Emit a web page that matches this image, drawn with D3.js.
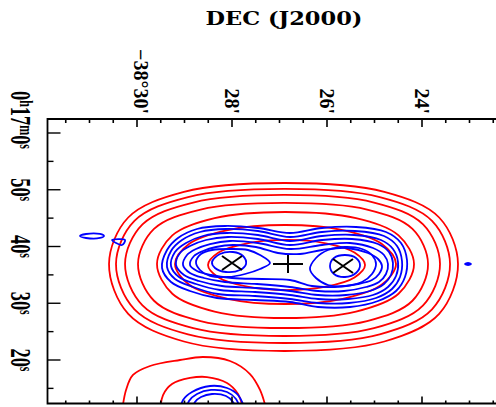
<!DOCTYPE html>
<html><head><meta charset="utf-8">
<script src="https://cdn.jsdelivr.net/npm/d3@7"></script>
<style>body{margin:0;background:#fff}svg{display:block}</style>
</head><body><svg id="c" width="496" height="407"></svg>
<script>
// ---- axis data (DEC in arcmin of -38 deg, RA in seconds after 0h16m) ----
const decMajor = [30, 28, 26, 24];
const decLabels = ["−38°30'", "28'", "26'", "24'"];
const raMajor = [60, 50, 40, 30, 20];
const raLabels = ["0h17m0s", "50s", "40s", "30s", "20s"];
const raMinor = [55, 45, 35, 25, 15];
const title = "DEC (J2000)";

// ---- red contours (main source), [dec, ra] ----
const red1 = [[25.199,36.74],[25.421,38.94],[26.026,40.56],[26.852,41.15],[27.678,40.56],[28.283,38.94],[28.505,36.74],[28.283,34.54],[27.678,32.92],[26.852,32.33],[26.026,32.92],[25.421,34.54]];
const red2 = [[24.547,36.916],[24.851,40.49],[25.669,42.90],[26.884,43.79],[28.088,42.90],[28.899,40.49],[29.200,36.916],[28.899,33.25],[28.088,30.79],[26.884,29.87],[25.669,30.79],[24.851,33.25]];
const red3 = [[24.168,36.916],[24.494,41.95],[25.390,44.98],[26.884,46.08],[28.366,44.98],[29.256,41.95],[29.579,36.916],[29.256,31.68],[28.366,28.54],[26.884,27.40],[25.390,28.54],[24.494,31.68]];
const red4 = [[23.873,36.916],[24.201,43.09],[25.156,46.50],[26.884,47.67],[28.661,46.50],[29.642,43.09],[29.979,36.916],[29.642,30.44],[28.661,26.87],[26.884,25.64],[25.156,26.87],[24.201,30.44]];
const red5 = [[23.621,36.916],[23.977,43.90],[25.011,47.75],[26.884,49.08],[28.817,47.75],[29.885,43.90],[30.252,36.916],[29.885,29.64],[28.817,25.61],[26.884,24.23],[25.011,25.61],[23.977,29.64]];
const red6 = [[23.410,36.916],[23.789,44.51],[24.890,48.70],[26.884,50.14],[28.926,48.70],[30.054,44.51],[30.442,36.916],[30.054,28.93],[28.926,24.52],[26.884,23.00],[24.890,24.52],[23.789,28.93]];
const red7 = [[23.242,36.916],[23.639,45.11],[24.793,49.63],[26.884,51.19],[29.011,49.63],[30.185,45.11],[30.589,36.916],[30.185,28.12],[29.011,23.26],[26.884,21.59],[24.793,23.26],[23.639,28.12]];
// ---- red contours of the southern source (open, run off the frame) ----
const redS1 = [[30.316,10.84],[30.231,14.72],[30.084,17.36],[29.726,18.94],[29.095,20.00],[28.610,20.53],[28.042,19.82],[27.621,17.53],[27.410,14.72],[27.263,10.84]];
const redS2 = [[29.516,10.84],[29.452,13.83],[29.263,15.77],[28.884,16.83],[28.526,17.00],[28.105,15.95],[27.873,14.01],[27.747,10.84]];

// ---- blue contours ----
const blue1 = [[29.473,36.211],[29.368,39.383],[29.137,41.498],[28.737,43.083],[28.148,43.612],[27.453,43.260],[26.779,42.379],[26.105,43.260],[25.390,43.436],[24.758,42.555],[24.442,40.616],[24.316,37.621],[24.358,34.625],[24.547,32.159],[24.926,30.397],[25.516,29.340],[26.189,29.340],[26.779,30.221],[27.516,30.573],[28.316,30.925],[28.885,32.159],[29.284,33.745]];
const blue2 = [[29.368,36.388],[29.284,39.207],[29.053,41.145],[28.674,42.555],[28.127,43.083],[27.453,42.731],[26.779,41.674],[26.105,42.555],[25.411,42.731],[24.800,41.850],[24.526,40.088],[24.421,37.445],[24.463,34.626],[24.632,32.511],[24.968,30.925],[25.537,30.045],[26.189,30.045],[26.779,30.749],[27.516,31.278],[28.295,31.630],[28.821,32.864],[29.200,34.273]];
const blue3 = [[29.284,36.564],[29.200,39.031],[28.968,40.616],[28.611,41.850],[28.105,42.379],[27.453,42.026],[26.779,40.969],[26.105,41.850],[25.432,42.026],[24.863,41.145],[24.611,39.559],[24.505,37.269],[24.547,34.802],[24.716,32.864],[25.032,31.454],[25.558,30.749],[26.189,30.749],[26.779,31.454],[27.516,31.983],[28.253,32.335],[28.758,33.392],[29.116,34.626]];
const blue4 = [[29.179,36.740],[29.095,38.854],[28.884,40.088],[28.547,41.145],[28.084,41.674],[27.453,41.322],[26.779,40.264],[26.105,41.145],[25.474,41.322],[24.926,40.440],[24.695,39.031],[24.611,37.093],[24.653,34.978],[24.800,33.392],[25.095,32.159],[25.600,31.454],[26.189,31.454],[26.779,32.159],[27.495,32.688],[28.211,33.040],[28.695,33.921],[29.010,34.978]];
const blue5 = [[29.031,36.740],[28.947,38.502],[28.758,39.559],[28.463,40.440],[28.042,40.969],[27.453,40.616],[26.779,39.559],[26.105,40.264],[25.516,40.616],[25.032,39.735],[24.800,38.502],[24.716,36.916],[24.758,35.154],[24.905,33.745],[25.179,32.864],[25.642,32.159],[26.189,32.159],[26.779,32.864],[27.474,33.392],[28.148,33.745],[28.590,34.450],[28.884,35.331]];
const blue6 = [[28.884,36.740],[28.800,38.326],[28.611,39.207],[28.337,39.912],[27.979,40.264],[27.495,39.912],[27.032,38.854],[26.568,38.678],[26.105,39.383],[25.579,39.735],[25.137,38.854],[24.926,37.797],[24.842,36.564],[24.905,35.154],[25.053,34.097],[25.347,33.392],[25.832,32.864],[26.316,33.040],[26.779,34.097],[27.368,34.273],[28.000,34.450],[28.442,34.978],[28.737,35.683]];
const blue7a = [[28.758,37.269],[28.653,38.678],[28.421,39.383],[28.042,39.559],[27.663,39.383],[27.410,38.502],[27.200,37.093],[27.410,36.035],[27.726,35.154],[28.084,34.626],[28.463,34.802],[28.674,35.859]];
const blue7b = [[26.358,36.035],[26.232,37.973],[25.979,39.383],[25.621,39.912],[25.263,39.559],[25.053,38.502],[24.968,36.916],[25.053,35.154],[25.263,33.745],[25.621,33.040],[25.979,33.216],[26.232,34.450]];
const blue8a = [[28.421,37.269],[28.253,38.678],[27.979,39.031],[27.768,38.326],[27.705,36.916],[27.832,35.859],[28.127,35.507],[28.358,36.211]];
const blue8b = [[25.937,36.564],[25.853,37.973],[25.621,38.502],[25.390,37.973],[25.305,36.740],[25.390,35.331],[25.621,34.626],[25.853,35.154]];
const blueDash = [[31.200,41.850],[31.073,42.203],[30.779,42.203],[30.695,41.850],[30.779,41.498],[31.073,41.498]];
const blueTri = [[30.526,41.145],[30.252,41.145],[30.316,40.264]];
const blueDot = [[23.095,36.916],[23.031,37.093],[22.968,36.916],[23.031,36.740]];
const blueS1 = [[29.095,10.84],[29.031,12.95],[28.842,14.36],[28.463,15.42],[28.105,15.07],[27.873,13.83],[27.705,10.84]];
const blueS2 = [[28.968,10.84],[28.905,12.78],[28.737,14.01],[28.442,14.72],[28.105,14.36],[27.916,13.13],[27.810,10.84]];
const blueS3 = [[28.842,10.84],[28.779,12.60],[28.652,13.48],[28.421,14.01],[28.126,13.66],[27.979,12.60],[27.916,10.84]];

// ---- markers ----
const peaks = [[28.000,37.093],[25.663,36.564]];
const centre = [26.821,36.916];

const redClosed = [red1, red2, red3, red4, red5, red6, red7];
const redOpen = [redS1, redS2];
const blueClosed = [blue1, blue2, blue3, blue4, blue5, blue6, blue7a, blue7b, blue8a, blue8b, blueDash, blueTri, blueDot];
const blueOpen = [blueS1, blueS2, blueS3];

// ---- layout ----
const W = 496, H = 407;
const frame = {left: 47.5, top: 119, right: 540, bottom: 403.5};
const x = d3.scaleLinear().domain([30, 24]).range([137, 422]);
const y = d3.scaleLinear().domain([60, 20]).range([133, 360]);

const svg = d3.select("#c");
svg.append("rect").attr("width", W).attr("height", H).attr("fill", "#fff");

const defs = svg.append("defs");
defs.append("clipPath").attr("id", "clip").append("rect")
  .attr("x", frame.left).attr("y", frame.top)
  .attr("width", frame.right - frame.left).attr("height", frame.bottom - frame.top);

const plot = svg.append("g").attr("clip-path", "url(#clip)");
const closedLine = d3.line().x(p => x(p[0])).y(p => y(p[1])).curve(d3.curveCatmullRomClosed.alpha(0.5));
const openLine = d3.line().x(p => x(p[0])).y(p => y(p[1])).curve(d3.curveCatmullRom.alpha(0.5));

plot.selectAll("path.rc").data(redClosed).join("path").attr("class", "rc")
  .attr("d", closedLine).attr("fill", "none").attr("stroke", "#ff0000").attr("stroke-width", 1.8);
plot.selectAll("path.ro").data(redOpen).join("path").attr("class", "ro")
  .attr("d", openLine).attr("fill", "none").attr("stroke", "#ff0000").attr("stroke-width", 1.8);
plot.selectAll("path.bc").data(blueClosed).join("path").attr("class", "bc")
  .attr("d", closedLine).attr("fill", "none").attr("stroke", "#0000ff").attr("stroke-width", 1.8);
plot.selectAll("path.bo").data(blueOpen).join("path").attr("class", "bo")
  .attr("d", openLine).attr("fill", "none").attr("stroke", "#0000ff").attr("stroke-width", 1.8);

// crosses
peaks.forEach(p => {
  const cx = x(p[0]), cy = y(p[1]);
  plot.append("path").attr("d", `M${cx-10},${cy-7}L${cx+10},${cy+7}M${cx-10},${cy+7}L${cx+10},${cy-7}`)
    .attr("stroke", "#000").attr("stroke-width", 2).attr("fill", "none");
});
{
  const cx = x(centre[0]), cy = y(centre[1]);
  plot.append("path").attr("d", `M${cx-15},${cy}L${cx+15},${cy}M${cx},${cy-9}L${cx},${cy+9}`)
    .attr("stroke", "#000").attr("stroke-width", 2).attr("fill", "none");
}

// ---- frame & ticks ----
const ax = svg.append("g").attr("stroke", "#000").attr("fill", "none");
ax.append("path").attr("d", `M${frame.right},${frame.top}H${frame.left}V${frame.bottom}H${frame.right}`).attr("stroke-width", 1.8);

const decMinor = d3.range(31.5, 22, -0.5).filter(v => !decMajor.includes(v));
decMinor.forEach(v => {
  ax.append("line").attr("x1", x(v)).attr("x2", x(v)).attr("y1", frame.top).attr("y2", frame.top + 4).attr("stroke-width", 1.6);
  ax.append("line").attr("x1", x(v)).attr("x2", x(v)).attr("y1", frame.bottom).attr("y2", frame.bottom - 3).attr("stroke-width", 1.6);
});
decMajor.forEach(v => {
  ax.append("line").attr("x1", x(v)).attr("x2", x(v)).attr("y1", frame.top).attr("y2", frame.top + 8).attr("stroke-width", 1.6);
  ax.append("line").attr("x1", x(v)).attr("x2", x(v)).attr("y1", frame.bottom).attr("y2", frame.bottom - 7).attr("stroke-width", 1.6);
});
raMajor.forEach(v => {
  ax.append("line").attr("x1", frame.left).attr("x2", frame.left + 13).attr("y1", y(v)).attr("y2", y(v)).attr("stroke-width", 1.4);
});
raMinor.forEach(v => {
  ax.append("line").attr("x1", frame.left).attr("x2", frame.left + 6).attr("y1", y(v)).attr("y2", y(v)).attr("stroke-width", 1.4);
});

// ---- labels ----
svg.append("text").attr("x", 284).attr("y", 25).attr("text-anchor", "middle")
  .attr("font-family", "DejaVu Serif").attr("font-weight", "bold").attr("font-size", 19)
  .attr("textLength", 157).attr("lengthAdjust", "spacingAndGlyphs").attr("fill", "#000").text(title);

decMajor.forEach((v, i) => {
  svg.append("text")
    .attr("transform", `translate(${x(v) - 7 + (i === 0 ? 4 : 0)},114) rotate(90)`)
    .attr("text-anchor", "end").attr("font-family", "Liberation Serif").attr("font-weight", "bold").attr("font-size", 20)
    .attr("fill", "#000").text(decLabels[i]);
});

raMajor.forEach((v, i) => {
  const cy = y(v) - (i === 0 ? 13 : 0);
  const t = svg.append("text")
    .attr("transform", `translate(11,${cy}) rotate(90) scale(0.92,1.45)`)
    .attr("text-anchor", "middle").attr("font-family", "Liberation Serif").attr("font-weight", "bold").attr("font-size", 20).attr("fill", "#000");
  const parts = raLabels[i].match(/\d+|[a-z]/g);
  let raised = false;
  parts.forEach(p => {
    const isSup = /[a-z]/.test(p);
    const ts = t.append("tspan").text(p);
    if (isSup && !raised) { ts.attr("dy", -6).attr("font-size", 13); raised = true; }
    else if (isSup) { ts.attr("font-size", 13); }
    else if (raised) { ts.attr("dy", 6); raised = false; }
  });
});
</script></body></html>
